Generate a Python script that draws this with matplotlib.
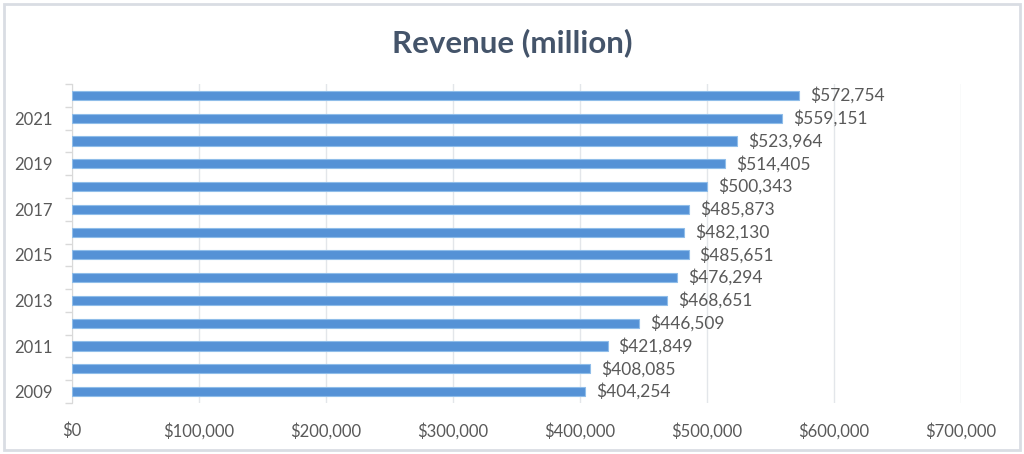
import numpy as np
import matplotlib.pyplot as plt
from matplotlib.patches import FancyBboxPatch

years = [2009, 2010, 2011, 2012, 2013, 2014, 2015, 2016, 2017, 2018, 2019, 2020, 2021, 2022]
revenue = [404254, 408085, 421849, 446509, 468651, 476294, 485651, 482130,
           485873, 500343, 514405, 523964, 559151, 572754]
xticks = [0, 100000, 200000, 300000, 400000, 500000, 600000, 700000]

plt.rcParams['font.family'] = ['Lato', 'DejaVu Sans']
txt = '#595959'

fig = plt.figure(figsize=(10.24, 4.54), dpi=100)
ax = fig.add_axes([72/1024, 1-403/454, (961-72)/1024, (403-84)/454])

y = np.arange(len(years))
ax.barh(y, revenue, height=0.4, color='#5592d6', edgecolor='#8fbde9', linewidth=0.8, zorder=3)

for yi, v in zip(y, revenue):
    ax.text(v + 8500, yi, '${:,}'.format(v), va='center', ha='left', fontsize=12.5, color=txt)

ax.set_xlim(0, 700000)
ax.set_ylim(-0.5, len(years) - 0.5)
ax.set_xticks(xticks)
ax.set_xticklabels(['${:,}'.format(t) for t in xticks], fontsize=12, color=txt)
ax.tick_params(axis='x', length=0, pad=14)
ax.grid(axis='x', color='#e3e6ea', linewidth=1, zorder=0)

# category boundary ticks, labels on every other year
ax.set_yticks(np.arange(-0.5, len(years), 1))
ax.set_yticklabels([])
ax.tick_params(axis='y', which='major', length=5, color='#d9d9d9', width=1)
ax.set_yticks(y[::2], minor=True)
ax.set_yticklabels([str(v) for v in years[::2]], minor=True, fontsize=12, color=txt)
ax.tick_params(axis='y', which='minor', length=0, pad=14)

for s in ['top', 'right', 'bottom']:
    ax.spines[s].set_visible(False)
ax.spines['left'].set_color('#d9d9d9')

fig.text(0.5, 1-43/454, 'Revenue (million)', ha='center', va='center',
         fontsize=22.5, fontweight='bold', color='#44546a')

border = FancyBboxPatch((4/1024, 4/454), 1-8/1024, 1-8/454, boxstyle='square,pad=0',
                        transform=fig.transFigure, fill=False, edgecolor='#d9dde3', linewidth=2)
fig.patches.append(border)

fig.savefig('out.png', dpi=100)
